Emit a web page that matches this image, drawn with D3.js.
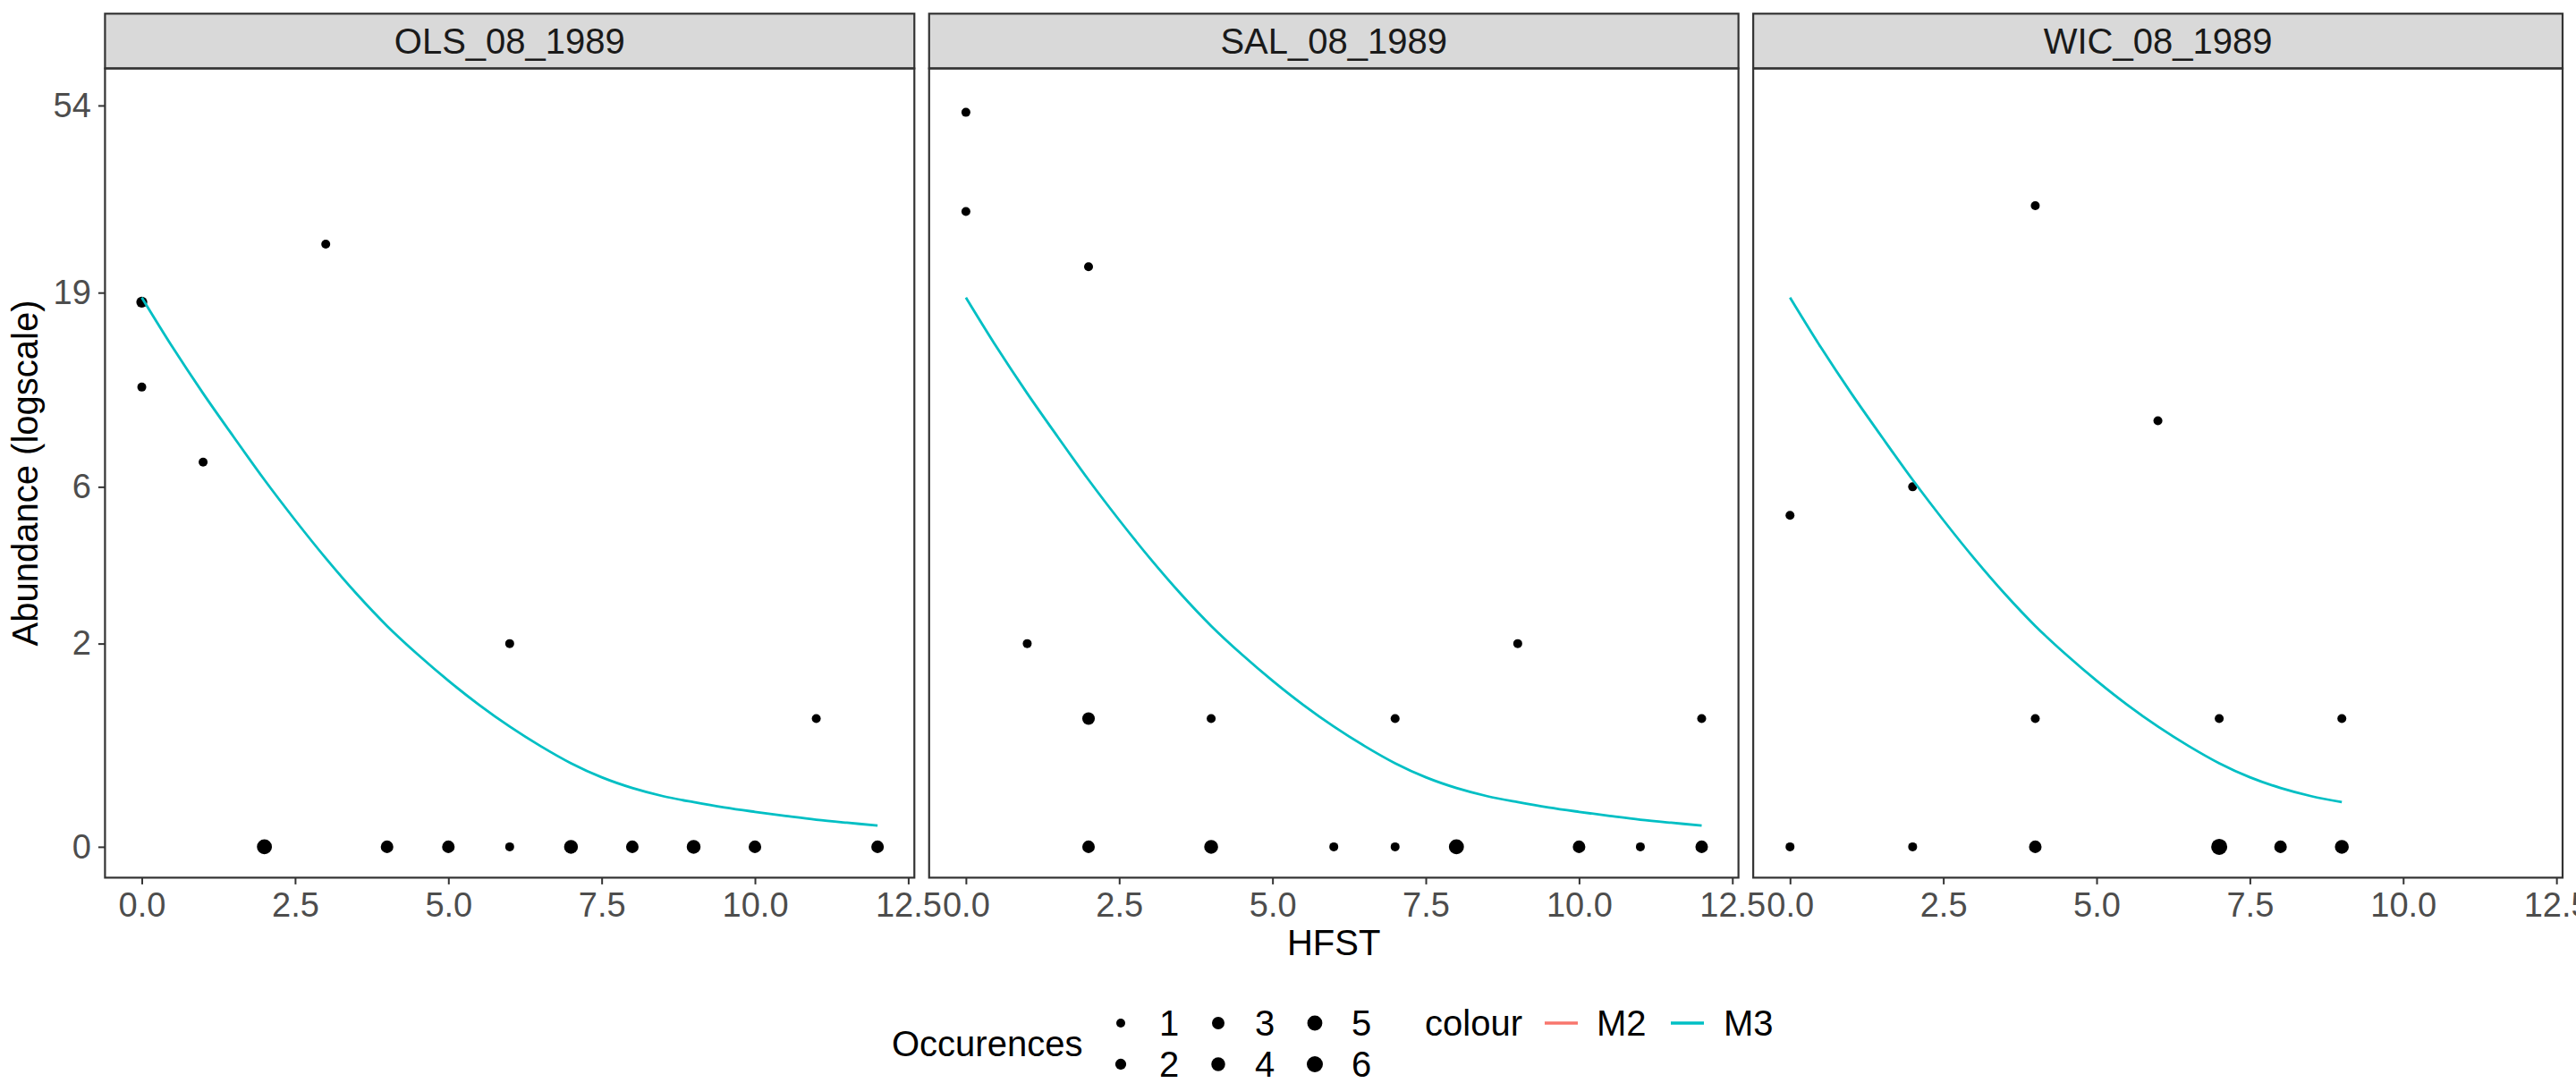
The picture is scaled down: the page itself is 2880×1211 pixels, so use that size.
<!DOCTYPE html>
<html>
<head>
<meta charset="utf-8">
<script src="https://cdn.jsdelivr.net/npm/d3@7"></script>
<style>
  html, body { margin: 0; padding: 0; background: #ffffff; }
  svg { display: block; }
  text { font-family: "Liberation Sans", Arial, Helvetica, sans-serif; }
</style>
</head>
<body>
<div id="chart"></div>
<script>
// ---- data -------------------------------------------------------------
const sites = ["OLS_08_1989", "SAL_08_1989", "WIC_08_1989"];

// observed abundance by HFST, with number of occurences of each pair
const olsHFST  = [0, 0, 1, 3, 6, 11, 2, 4, 5, 6, 7, 8, 9, 10, 12];
const olsAbund = [18, 11, 7, 25, 2, 1, 0, 0, 0, 0, 0, 0, 0, 0, 0];
const olsOcc   = [2, 1, 1, 1, 1, 1, 5, 3, 3, 1, 4, 3, 4, 3, 3];

const salHFST  = [0, 0, 2, 1, 9, 2, 4, 7, 12, 2, 4, 6, 7, 8, 10, 11, 12];
const salAbund = [52, 30, 22, 2, 2, 1, 1, 1, 1, 0, 0, 0, 0, 0, 0, 0, 0];
const salOcc   = [1, 1, 1, 1, 1, 3, 1, 1, 1, 3, 4, 1, 1, 5, 3, 1, 3];

const wicHFST  = [4, 6, 2, 0, 4, 7, 9, 0, 2, 4, 7, 8, 9];
const wicAbund = [31, 9, 6, 5, 1, 1, 1, 0, 0, 0, 0, 0, 0];
const wicOcc   = [1, 1, 1, 1, 1, 1, 1, 1, 1, 3, 6, 3, 4];

// fitted M3 curve (predicted abundance along HFST)
const m3HFST  = [0, 0.5, 1, 1.5, 2, 2.5, 3, 3.5, 4, 4.5, 5, 5.5, 6,
                 6.5, 7, 7.5, 8, 8.5, 9, 9.5, 10, 10.5, 11, 11.5, 12];
const m3Abund = [18.47, 13.9, 10.6, 8.16, 6.27, 4.85, 3.76, 2.93, 2.30, 1.829, 1.455, 1.155, 0.916,
                 0.725, 0.571, 0.456, 0.374, 0.315, 0.273, 0.237, 0.208, 0.182, 0.158, 0.139, 0.122];
const m3MaxHFST = [12, 12, 9];   // fitted range per site

const xBreaks = [0, 2.5, 5, 7.5, 10, 12.5];
const yBreaks = [0, 2, 6, 19, 54];
const xLimits = [0, 12];
const yLimits = [0, 54];
const occLevels = [1, 2, 3, 4, 5, 6];
const modelNames = ["M2", "M3"];
const modelColours = ["#F8766D", "#00BFC4"];

// ---- layout -----------------------------------------------------------
const W = 2880, H = 1211;
const plotLeft = 117.4, plotRight = 2865, panelGap = 16.5;
const stripTop = 15.3, panelTop = 76.5, panelBottom = 981.4;
const panelW = (plotRight - plotLeft - 2 * panelGap) / 3;
const ink = "#333333";

const svg = d3.select("#chart").append("svg")
  .attr("width", W).attr("height", H)
  .attr("viewBox", [0, 0, W, H]);
svg.append("rect").attr("width", W).attr("height", H).attr("fill", "#ffffff");

const siteData = [
  { hfst: olsHFST, abund: olsAbund, occ: olsOcc },
  { hfst: salHFST, abund: salAbund, occ: salOcc },
  { hfst: wicHFST, abund: wicAbund, occ: wicOcc }
];

// y on a log(1 + y) scale, limits expanded by 5% in transformed units
const l1 = Math.log1p(yLimits[1]) - Math.log1p(yLimits[0]);
const yLo = Math.expm1(Math.log1p(yLimits[0]) - 0.05 * l1);
const yHi = Math.expm1(Math.log1p(yLimits[1]) + 0.05 * l1);
const y = d3.scaleSymlog().constant(1).domain([yLo, yHi]).range([panelBottom, panelTop]);

const xPad = 0.05 * (xLimits[1] - xLimits[0]);
const size = d3.scaleSqrt().domain([1, 6]).range([5, 9]);

const line = d3.line().curve(d3.curveCatmullRom.alpha(0.5));

sites.forEach((name, i) => {
  const left = plotLeft + i * (panelW + panelGap);
  const x = d3.scaleLinear()
    .domain([xLimits[0] - xPad, xLimits[1] + xPad])
    .range([left, left + panelW]);
  const g = svg.append("g");

  // strip
  g.append("rect")
    .attr("x", left).attr("y", stripTop)
    .attr("width", panelW).attr("height", panelTop - stripTop)
    .attr("fill", "#D9D9D9").attr("stroke", ink).attr("stroke-width", 2.2);
  g.append("text")
    .attr("x", left + panelW / 2).attr("y", (stripTop + panelTop) / 2)
    .attr("text-anchor", "middle").attr("dominant-baseline", "central")
    .attr("font-size", 40).attr("fill", "#1A1A1A")
    .text(name);

  // points
  const d = siteData[i];
  const pts = d.hfst.map((h, k) => ({ h, a: d.abund[k], o: d.occ[k] }));
  g.append("g").selectAll("circle").data(pts).join("circle")
    .attr("cx", p => x(p.h)).attr("cy", p => y(p.a))
    .attr("r", p => size(p.o)).attr("fill", "#000000");

  // fitted curve
  const curve = m3HFST.map((h, k) => [h, m3Abund[k]]).filter(c => c[0] <= m3MaxHFST[i]);
  g.append("path")
    .attr("d", line.x(c => x(c[0])).y(c => y(c[1]))(curve))
    .attr("fill", "none").attr("stroke", modelColours[1]).attr("stroke-width", 2.8);

  // panel border
  g.append("rect")
    .attr("x", left).attr("y", panelTop)
    .attr("width", panelW).attr("height", panelBottom - panelTop)
    .attr("fill", "none").attr("stroke", ink).attr("stroke-width", 2.2);

  // x axis
  const xa = svg.append("g").attr("transform", `translate(0,${panelBottom})`)
    .call(d3.axisBottom(x).tickValues(xBreaks).tickFormat(d3.format(".1f"))
      .tickSize(7.5).tickPadding(9).tickSizeOuter(0));
  xa.select(".domain").remove();
  xa.selectAll("line").attr("stroke", ink).attr("stroke-width", 2);
  xa.selectAll("text").attr("font-size", 38).attr("fill", "#4D4D4D")
    .attr("font-family", "Liberation Sans, Arial, sans-serif");

  if (i === 0) {
    const ya = svg.append("g").attr("transform", `translate(${left},0)`)
      .call(d3.axisLeft(y).tickValues(yBreaks).tickFormat(d3.format("d"))
        .tickSize(7.5).tickPadding(8).tickSizeOuter(0));
    ya.select(".domain").remove();
    ya.selectAll("line").attr("stroke", ink).attr("stroke-width", 2);
    ya.selectAll("text").attr("font-size", 38).attr("fill", "#4D4D4D")
      .attr("font-family", "Liberation Sans, Arial, sans-serif");
  }
});

// axis titles
svg.append("text")
  .attr("x", (plotLeft + plotRight) / 2).attr("y", 1068)
  .attr("text-anchor", "middle").attr("font-size", 40).attr("fill", "#000000")
  .text("HFST");
svg.append("text")
  .attr("transform", `translate(42,${(panelTop + panelBottom) / 2}) rotate(-90)`)
  .attr("text-anchor", "middle").attr("font-size", 40).attr("fill", "#000000")
  .text("Abundance (logscale)");

// ---- legends ----------------------------------------------------------
const legFont = 40;
const row1 = 1144, row2 = 1190;

svg.append("text")
  .attr("x", 997).attr("y", (row1 + row2) / 2)
  .attr("dominant-baseline", "central").attr("font-size", legFont)
  .text("Occurences");

const keyX = [1253, 1362, 1470];
const labX = [1296, 1403, 1511];
const sizeLeg = svg.append("g");
occLevels.forEach((v, k) => {
  const col = Math.floor(k / 2), row = k % 2;
  const cy = row === 0 ? row1 : row2;
  sizeLeg.append("circle")
    .attr("cx", keyX[col]).attr("cy", cy).attr("r", size(v)).attr("fill", "#000000");
  sizeLeg.append("text")
    .attr("x", labX[col]).attr("y", cy)
    .attr("dominant-baseline", "central").attr("font-size", legFont)
    .text(v);
});

svg.append("text")
  .attr("x", 1593).attr("y", row1)
  .attr("dominant-baseline", "central").attr("font-size", legFont)
  .text("colour");

const lineX = [1727, 1868];
const modelLabX = [1785, 1927];
modelNames.forEach((m, k) => {
  svg.append("line")
    .attr("x1", lineX[k]).attr("x2", lineX[k] + 37)
    .attr("y1", row1).attr("y2", row1)
    .attr("stroke", modelColours[k]).attr("stroke-width", 3.6);
  svg.append("text")
    .attr("x", modelLabX[k]).attr("y", row1)
    .attr("dominant-baseline", "central").attr("font-size", legFont)
    .text(m);
});
</script>
</body>
</html>
